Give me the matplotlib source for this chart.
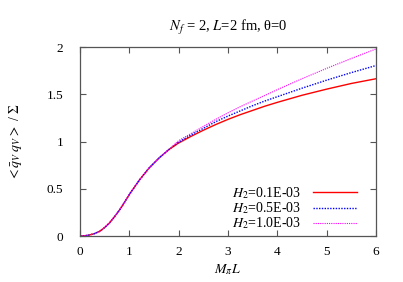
import matplotlib

matplotlib.use("Agg")
import matplotlib.pyplot as plt

# M_pi L values and condensate ratio
x_low = [0.0, 0.1, 0.2, 0.3, 0.4, 0.5, 0.6, 0.7, 0.8, 0.9, 1.0, 1.2, 1.4,
         1.6, 1.8]
y_low = [0.0, 0.003, 0.012, 0.027, 0.05, 0.09, 0.14, 0.205, 0.275, 0.355,
         0.44, 0.59, 0.72, 0.825, 0.915]

x_high = [2.0, 2.25, 2.5, 2.75, 3.0, 3.25, 3.5, 3.75, 4.0, 4.5, 5.0, 5.5, 6.0]
y_h01 = [0.985, 1.055, 1.12, 1.18, 1.235, 1.285, 1.33, 1.375, 1.415,
         1.49, 1.555, 1.615, 1.665]
y_h05 = [0.995, 1.07, 1.14, 1.21, 1.27, 1.325, 1.38, 1.43, 1.475,
         1.565, 1.65, 1.73, 1.805]
y_h10 = [1.01, 1.085, 1.16, 1.235, 1.305, 1.37, 1.43, 1.49, 1.55,
         1.665, 1.775, 1.88, 1.98]

labels = [r"$H_2$=0.1E-03", r"$H_2$=0.5E-03", r"$H_2$=1.0E-03"]
title = r"$N_f$ = 2, $L$=2 fm, θ=0"

plt.rcParams["font.family"] = ["Liberation Serif", "DejaVu Serif"]
plt.rcParams["mathtext.fontset"] = "stix"
plt.rcParams["font.size"] = 10

fig = plt.figure(figsize=(4.03, 2.82), dpi=100)
ax = fig.add_axes([0.1985, 0.163, 0.7345, 0.670])

styles = [
    dict(color="#ff0000", lw=1.0, ls="-"),
    dict(color="#0000ff", lw=1.0, ls=(0, (1, 1))),
    dict(color="#ff00ff", lw=0.8, ls=(0, (1, 1))),
]
for ys, lab, st in zip([y_h01, y_h05, y_h10], labels, styles):
    ax.plot(x_low + x_high, y_low + ys, label=lab, **st)

ax.set_xlim(0, 6)
ax.set_ylim(0, 2)
ax.set_xticks([0, 1, 2, 3, 4, 5, 6])
ax.set_yticks([0, 0.5, 1, 1.5, 2])
ax.set_yticklabels(["0", "0.5", "1", "1.5", "2"])
ax.tick_params(direction="in", top=True, right=True, length=4, width=0.8,
               color="#555555", labelsize=9.5)
ax.tick_params(axis="x", pad=7)
ax.tick_params(axis="y", pad=12)
for s in ax.spines.values():
    s.set_color("#555555")
    s.set_linewidth(0.9)

ax.set_xlabel(r"$M_\pi L$", labelpad=3)
ax.set_ylabel(r"$<\bar{q}_V\;q_V>$ / $\Sigma$", labelpad=16)
ax.set_title(title, pad=12, fontsize=10.5)

ax.legend(loc="lower right", bbox_to_anchor=(0.936, 0.025), frameon=False,
          markerfirst=False, handlelength=3.2, handletextpad=0.8,
          labelspacing=-0.05, borderpad=0, borderaxespad=0, fontsize=10)

fig.savefig("out.png", dpi=100)
